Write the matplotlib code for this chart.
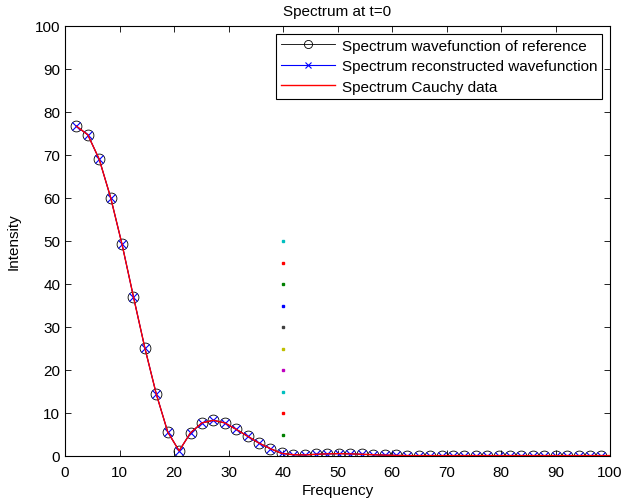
import matplotlib
matplotlib.use("Agg")
import matplotlib.pyplot as plt

plt.rcParams['font.family'] = ['Liberation Sans', 'DejaVu Sans']

step = 2.094
freq = [round(step * k, 3) for k in range(1, 48)]
ref_vals = [76.7, 74.7, 69.0, 60.1, 49.2, 37.0, 25.1, 14.4, 5.6, 1.2,
            5.4, 7.7, 8.3, 7.7, 6.2, 4.6, 3.0, 1.7, 0.6, 0.3,
            0.25, 0.4, 0.5, 0.55, 0.5, 0.4, 0.3, 0.2, 0.15, 0.1,
            0.1, 0.1, 0.1, 0.1, 0.1, 0.1, 0.1, 0.1, 0.1, 0.1,
            0.1, 0.1, 0.1, 0.1, 0.1, 0.1, 0.1]
rec_vals = list(ref_vals)
cauchy_freq = freq + [100.0]
cauchy_vals = ref_vals + [0.1]

dot_x = [40] * 10
dot_y = [5, 10, 15, 20, 25, 30, 35, 40, 45, 50]
dot_colors = [(0, 0.5, 0), (1, 0, 0), (0, 0.75, 0.75), (0.75, 0, 0.75),
              (0.75, 0.75, 0), (0.25, 0.25, 0.25), (0, 0, 1),
              (0, 0.5, 0), (1, 0, 0), (0, 0.75, 0.75)]

fig = plt.figure(figsize=(6.26, 5.02), dpi=100)
ax = fig.add_axes([65/626, 1 - 457/502, 545/626, 430/502])

ax.plot(freq, ref_vals, color='k', lw=0.6, marker='o', ms=7.8, mfc='none',
        mec='k', mew=0.6, label='Spectrum wavefunction of reference')
ax.plot(freq, rec_vals, color='b', lw=0.8, marker='x', ms=6, mew=0.8,
        label='Spectrum reconstructed wavefunction')
ax.plot(cauchy_freq, cauchy_vals, color='r', lw=1.0,
        label='Spectrum Cauchy data')
for x, y, c in zip(dot_x, dot_y, dot_colors):
    ax.plot([x], [y], marker='s', ms=2, color=c, ls='none')

ax.set_xlim(0, 100)
ax.set_ylim(0, 100)
ax.set_xticks(range(0, 101, 10))
ax.set_yticks(range(0, 101, 10))
ax.tick_params(direction='in', top=True, right=True, length=4, width=0.6,
               labelsize=11)
ax.tick_params(axis='x', pad=6.5)
ax.tick_params(axis='y', pad=3.5)
for s in ax.spines.values():
    s.set_linewidth(0.8)

ax.set_title('Spectrum at t=0', fontsize=11, pad=8)
ax.set_xlabel('Frequency', fontsize=11, labelpad=3)
ax.set_ylabel('Intensity', fontsize=11, labelpad=10)

leg = ax.legend(loc='upper right', fontsize=11, frameon=True, fancybox=False,
                edgecolor='k', framealpha=1, borderpad=0.33, labelspacing=0.42,
                handlelength=3.5, handletextpad=0.45, borderaxespad=0.5,
                markerscale=0.75)
leg.get_frame().set_linewidth(0.8)

fig.savefig('out.png', dpi=100)
